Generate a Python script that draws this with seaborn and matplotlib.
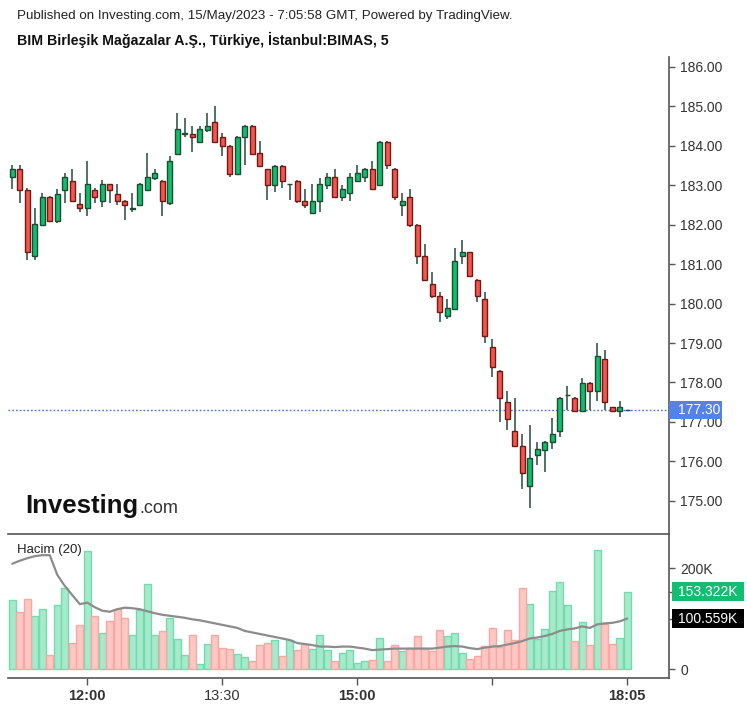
import numpy as np
import pandas as pd
import matplotlib
matplotlib.use("Agg")
import matplotlib.pyplot as plt
import matplotlib.transforms as mtransforms
from matplotlib.patches import Rectangle
import seaborn as sns

# ---------------- data ----------------
opens = [183.20, 183.40, 182.89, 181.20, 182.00, 182.70, 182.10, 182.88, 183.11, 182.52,
         182.42, 182.89, 182.60, 183.02, 182.79, 182.60, 182.41, 182.50, 182.89, 183.19,
         183.11, 182.55, 183.80, 184.31, 184.31, 184.09, 184.41, 184.61, 184.22, 184.00,
         183.29, 184.22, 184.50, 183.81, 183.40, 183.01, 183.49, 183.02, 183.11, 182.60,
         182.29, 182.60, 183.01, 183.20, 182.70, 182.80, 183.11, 183.20, 183.41, 183.01,
         184.09, 183.41, 182.51, 182.70, 182.00, 181.21, 180.49, 180.20, 179.69, 179.87,
         181.20, 181.30, 180.61, 180.11, 178.89, 178.30, 177.50, 176.78, 176.40, 175.37,
         176.16, 176.29, 176.49, 176.77, 177.69, 177.60, 177.28, 177.98, 177.79, 178.59,
         177.37, 177.28, 177.30]
highs = [183.50, 183.50, 182.92, 182.42, 182.80, 182.72, 182.90, 183.31, 183.41, 182.80,
         183.62, 182.92, 183.13, 183.04, 183.03, 182.62, 182.80, 183.05, 183.81, 183.41,
         183.13, 183.73, 184.84, 184.70, 184.51, 184.50, 184.83, 185.02, 184.32, 184.02,
         184.24, 184.52, 184.52, 184.11, 183.42, 183.51, 183.51, 183.04, 183.13, 182.90,
         183.03, 183.18, 183.31, 183.41, 183.01, 183.31, 183.50, 183.43, 183.62, 184.11,
         184.11, 183.43, 182.80, 182.90, 182.02, 181.51, 180.81, 180.30, 180.11, 181.40,
         181.60, 181.32, 180.63, 180.29, 179.10, 178.32, 177.79, 177.60, 176.69, 176.93,
         176.50, 176.51, 177.10, 177.62, 177.90, 177.62, 178.11, 178.00, 179.00, 178.83,
         177.39, 177.52, 177.30]
lows = [182.91, 182.55, 181.11, 181.11, 181.98, 182.08, 182.04, 182.55, 182.58, 182.32,
        182.22, 182.56, 182.44, 182.55, 182.50, 182.12, 182.32, 182.48, 182.87, 183.14,
        182.22, 182.50, 183.78, 184.23, 183.84, 184.07, 184.34, 184.07, 183.73, 183.22,
        183.27, 183.52, 183.78, 183.47, 182.63, 182.82, 182.93, 182.63, 182.55, 182.43,
        182.27, 182.33, 182.91, 182.68, 182.61, 182.61, 183.09, 183.09, 182.88, 182.99,
        183.41, 182.63, 182.21, 181.94, 181.01, 180.59, 180.14, 179.53, 179.62, 179.85,
        181.01, 180.68, 180.04, 179.01, 178.13, 177.01, 176.80, 176.37, 175.29, 174.81,
        175.91, 175.73, 176.32, 176.61, 177.31, 177.26, 177.26, 177.31, 177.52, 177.31,
        177.26, 177.12, 177.30]
closes = [183.40, 182.88, 181.30, 182.01, 182.70, 182.10, 182.79, 183.20, 182.60, 182.42,
          183.03, 182.70, 183.03, 182.89, 182.60, 182.51, 182.41, 183.03, 183.20, 183.30,
          182.60, 183.62, 184.42, 184.31, 184.22, 184.42, 184.50, 184.09, 184.00, 183.29,
          184.22, 184.50, 183.80, 183.49, 183.01, 183.49, 183.11, 183.02, 182.59, 182.50,
          182.60, 183.03, 183.20, 182.70, 182.90, 183.20, 183.31, 183.41, 182.90, 184.09,
          183.50, 182.70, 182.61, 182.00, 181.21, 180.61, 180.20, 179.78, 179.88, 181.08,
          181.30, 180.70, 180.20, 179.18, 178.39, 177.60, 177.08, 176.39, 175.70, 176.08,
          176.31, 176.49, 176.70, 177.60, 177.69, 177.28, 177.98, 177.79, 178.67, 177.50,
          177.28, 177.37, 177.30]
volumes_k = [136.6, 112.9, 139.2, 105.0, 119.4, 27.7, 126.7, 161.0, 52.7, 87.1,
             233.7, 105.0, 72.5, 95.0, 119.4, 102.2, 67.3, 116.8, 168.9, 67.3,
             75.2, 101.6, 60.0, 27.7, 67.3, 10.5, 50.1, 67.3, 42.8, 40.2,
             30.3, 25.0, 15.8, 47.5, 52.7, 58.0, 25.7, 57.4, 37.6, 50.1,
             40.2, 67.3, 37.6, 15.8, 32.9, 37.6, 13.1, 15.8, 18.4, 62.6,
             15.8, 47.5, 35.6, 42.8, 65.3, 42.8, 35.6, 77.8, 65.3, 71.9,
             32.9, 20.4, 25.7, 45.5, 82.4, 44.8, 77.8, 58.0, 161.6, 129.3,
             59.4, 79.8, 154.5, 173.5, 126.7, 55.4, 93.0, 47.5, 235.6, 89.1,
             50.1, 62.6, 153.322]
volume_ma_k = [209, 215, 220, 224, 226, 226, 187, 165, 147, 129,
               132, 123, 116, 114, 119, 122, 121, 119, 115, 111,
               108, 106, 104, 102, 99, 97, 94, 91, 88, 85,
               82, 76, 73, 70, 67, 64, 61, 58, 52, 50,
               48, 45, 45, 44, 45, 45, 43, 41, 38, 39,
               40, 41, 41, 41, 41, 41, 41, 43, 45, 46,
               45, 42, 40, 43, 45, 46, 49, 52, 56, 61,
               63, 66, 70, 76, 79, 81, 85, 82, 89, 91,
               92, 95, 100.559]
price_ticks = [175.0, 176.0, 177.0, 178.0, 179.0, 180.0, 181.0, 182.0, 183.0, 184.0, 185.0, 186.0]
time_tick_pos = [10, 28, 46, 64, 82]
time_tick_labels = ["12:00", "13:30", "15:00", "", "18:05"]
time_tick_bold = [True, False, True, False, True]
last_price = 177.30
last_volume_k = 153.322
last_ma_k = 100.559

header_line = "Published on Investing.com, 15/May/2023 - 7:05:58 GMT, Powered by TradingView."
title_line = "BIM Birleşik Mağazalar A.Ş., Türkiye, İstanbul:BIMAS, 5"
volume_label = "Hacim (20)"

# ---------------- styling ----------------
sns.set_theme(style="white")
plt.rcParams['font.family'] = ['Liberation Sans', 'DejaVu Sans']

UP_FILL, UP_EDGE = "#0fbf6c", "#1f4a33"
DN_FILL, DN_EDGE = "#f2564c", "#6e1a16"
WICK = "#35594a"
VUP_FILL, VUP_EDGE = "#a6e9cb", "#72dcae"
VDN_FILL, VDN_EDGE = "#fdc7c3", "#f8a7a2"
AXC = "#555555"
TXT = "#333333"

df = pd.DataFrame({
    "idx": np.arange(len(opens)),
    "open": opens, "high": highs, "low": lows, "close": closes,
    "vol": volumes_k, "ma": volume_ma_k,
})
df["dir"] = np.where(df["close"] >= df["open"], "up", "down")

W, H = 747, 707
fig = plt.figure(figsize=(W / 100, H / 100), dpi=100)


def rect(l, t, r, b):
    return [l / W, 1 - b / H, (r - l) / W, (b - t) / H]


ax = fig.add_axes(rect(8, 57, 669, 534))
axv = fig.add_axes(rect(8, 534, 669, 678))
XL = (-0.57, 87.56)

# ---------------- candles ----------------
ax.vlines(df["idx"], df["low"], df["high"], color=WICK, lw=1.2, zorder=1)
body_bottom = np.minimum(df["open"], df["close"])
body_h = np.maximum(np.abs(df["close"] - df["open"]), 0.004)
fills = [UP_FILL if d == "up" else DN_FILL for d in df["dir"]]
edges = [UP_EDGE if d == "up" else DN_EDGE for d in df["dir"]]
ax.bar(df["idx"], body_h, bottom=body_bottom, width=0.72, color=fills,
       edgecolor=edges, linewidth=1.0, zorder=2)

ax.axhline(last_price, color="#4a6fe3", ls=(0, (1.2, 1.5)), lw=1.0, zorder=0)

ax.set_xlim(*XL)
ax.set_ylim(174.16, 186.25)
ax.yaxis.tick_right()
ax.set_yticks(price_ticks)
ax.set_yticklabels([f"{t:.2f}" for t in price_ticks])
ax.tick_params(axis="y", right=True, length=4, width=1, color=AXC,
               labelsize=10, labelcolor=TXT, pad=4)
ax.tick_params(axis="x", bottom=False, labelbottom=False)
for s in ["left", "top", "bottom"]:
    ax.spines[s].set_visible(False)
ax.spines["right"].set_color(AXC)
ax.spines["right"].set_linewidth(1.2)
ax.grid(False)

# price label box
tr = mtransforms.blended_transform_factory(ax.transAxes, ax.transData)
ax.add_patch(Rectangle((1.0, last_price - 0.228), 0.0802, 0.456, transform=tr,
                       facecolor="#5382e8", edgecolor="none", clip_on=False, zorder=5))
ax.text(1.0 + 9 / 661, last_price, f"{last_price:.2f}", transform=tr, color="white",
        fontsize=10, va="center", ha="left", zorder=6, clip_on=False)

# ---------------- volume ----------------
sns.barplot(data=df, x="idx", y="vol", hue="dir", native_scale=True,
            palette={"up": VUP_FILL, "down": VDN_FILL}, saturation=1,
            dodge=False, width=0.95, errorbar=None, legend=False, ax=axv,
            linewidth=1.0, edgecolor="none", zorder=1)
for p in axv.patches:
    fc = matplotlib.colors.to_hex(p.get_facecolor())
    p.set_edgecolor(VUP_EDGE if fc.lower() == VUP_FILL.lower() else VDN_EDGE)
sns.lineplot(data=df, x="idx", y="ma", ax=axv, color="#8c8c8c", lw=1.6, zorder=3)

axv.set_xlim(*XL)
axv.set_ylim(-17.2, 267.9)
axv.set_xlabel("")
axv.set_ylabel("")
axv.yaxis.tick_right()
axv.set_yticks([0, last_ma_k, last_volume_k, 200])
axv.set_yticklabels(["0", "", "", "200K"])
axv.tick_params(axis="y", right=True, length=4, width=1, color=AXC,
                labelsize=10, labelcolor=TXT, pad=4)
axv.set_xticks(time_tick_pos)
axv.set_xticklabels(time_tick_labels)
for lab, b in zip(axv.get_xticklabels(), time_tick_bold):
    lab.set_fontweight("bold" if b else "normal")
axv.tick_params(axis="x", bottom=True, length=5, width=1, color=AXC,
                labelsize=10.5, labelcolor=TXT, pad=3)
axv.spines["left"].set_visible(False)
for s in ["top", "bottom", "right"]:
    axv.spines[s].set_color(AXC)
    axv.spines[s].set_linewidth(1.2)
axv.grid(False)

trv = mtransforms.blended_transform_factory(axv.transAxes, axv.transData)
for val, col in [(last_volume_k, "#12bf72"), (last_ma_k, "#000000")]:
    axv.add_patch(Rectangle((1.0 + 3 / 661, val - 18.8), 0.1085, 37.6, transform=trv,
                            facecolor=col, edgecolor="none", clip_on=False, zorder=5))
    axv.text(1.0 + 9 / 661, val, f"{val:.3f}K", transform=trv, color="white",
             fontsize=10, va="center", ha="left", zorder=6, clip_on=False)

fig.text(17 / W, 1 - 550 / H, volume_label, fontsize=9.5, color="#222222", va="center")

# ---------------- header & logo ----------------
fig.text(17 / W, 1 - 16 / H, header_line, fontsize=9.6, color="#222222", va="center")
fig.text(17 / W, 1 - 40 / H, title_line, fontsize=10.2, fontweight="bold",
         color="#111111", va="center")
logo = fig.text(25 / W, 1 - 513 / H, "Investing", fontsize=18.5, fontweight="heavy",
                color="#111111", va="baseline")
fig.canvas.draw()
bb = logo.get_window_extent(renderer=fig.canvas.get_renderer())
fig.text(bb.x1 / (W) + 1 / W, 1 - 513 / H, ".com", fontsize=13, color="#333333",
         va="baseline")

fig.savefig("out.png", dpi=100, facecolor="white")
